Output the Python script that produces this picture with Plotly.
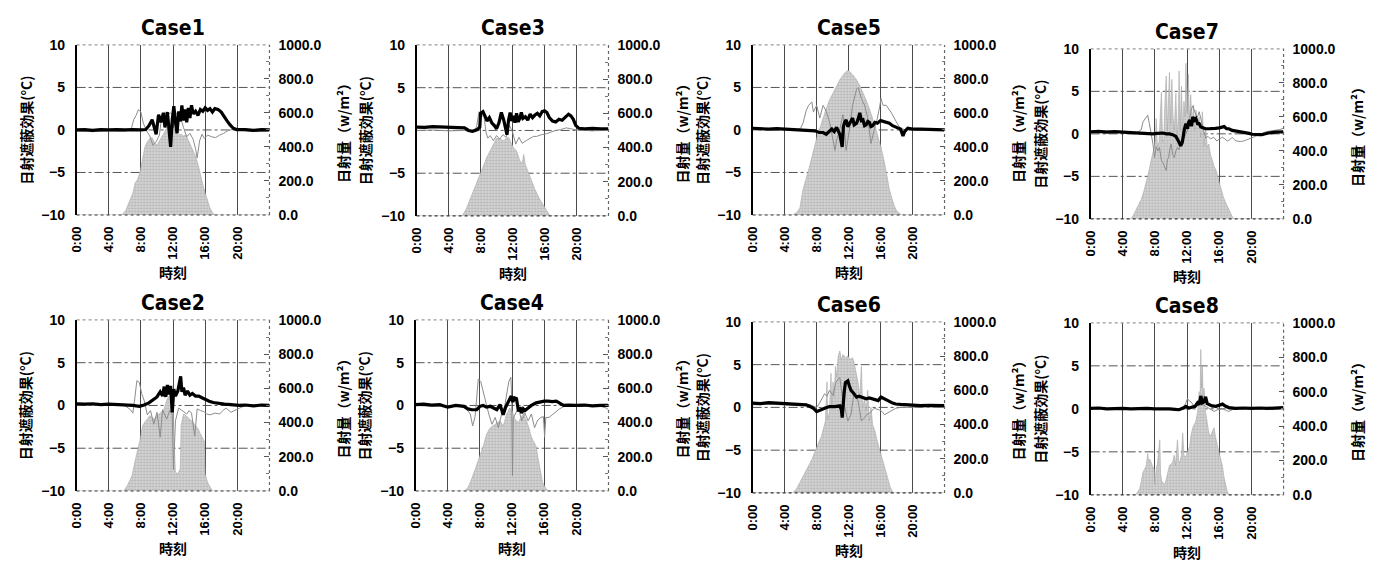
import plotly.graph_objects as go

# ---------------------------------------------------------------- data
# time of day [h], shading effect [°C] (black: 日射遮蔽効果, gray: comparison),
# global solar radiation [W/m2]
HOUR_TICKS = [0, 4, 8, 12, 16, 20]
HOUR_LABELS = ["0:00", "4:00", "8:00", "12:00", "16:00", "20:00"]
TEMP_TICKS = [-10, -5, 0, 5, 10]
TEMP_GRID = [-5, 0, 5]
CASES = ["Case1", "Case2", "Case3", "Case4", "Case5", "Case6", "Case7", "Case8"]

C1_RAD = [(0,0),(5.6,0),(6.1,25),(6.7,90),(7.0,130),(7.3,190),(7.6,210),(7.9,255),(8.2,340),(8.5,400),(8.8,430),(9.1,450),(9.4,455),(9.7,425),(10.0,410),(10.3,435),(10.6,460),(10.9,480),(11.2,510),(11.5,525),(11.8,520),(12.1,510),(12.4,480),(12.7,470),(13.0,475),(13.3,465),(13.6,470),(13.9,440),(14.2,410),(14.5,380),(14.8,345),(15.1,300),(15.4,235),(15.7,180),(16.0,130),(16.3,80),(16.6,40),(16.9,15),(17.2,0),(24,0)]
C1_BLK = [(0,0),(1,0.05),(2,-0.05),(3,0.05),(4,0),(5,0.05),(6,0),(7,0.05),(8,0),(8.6,0.05),(9.0,0.5),(9.4,1.2),(9.7,0.2),(9.9,-0.5),(10.2,1.8),(10.5,0.9),(10.8,2.0),(11.0,0.3),(11.3,2.1),(11.5,0.4),(11.7,-2.0),(11.9,1.2),(12.1,2.8),(12.3,0.9),(12.5,-0.4),(12.7,2.2),(12.9,1.0),(13.1,2.9),(13.3,1.1),(13.5,2.4),(13.7,0.9),(13.9,2.6),(14.1,1.4),(14.3,2.9),(14.5,1.9),(14.8,2.2),(15.1,1.7),(15.4,2.4),(15.7,2.2),(16.0,2.6),(16.3,2.3),(16.6,2.5),(16.9,2.1),(17.2,2.5),(17.6,2.4),(18.0,2.1),(18.3,1.6),(18.7,1.1),(19.1,0.6),(19.5,0.2),(19.9,0.05),(21,0.05),(22,-0.05),(23,0.05),(24,0)]
C1_GRY = [(0,-0.1),(2,-0.2),(4,-0.1),(6,-0.15),(6.8,0.1),(7.1,1.2),(7.4,1.7),(7.7,2.4),(8.0,2.1),(8.3,0.8),(8.7,-0.1),(9.1,-0.7),(9.5,-1.8),(9.9,-1.4),(10.3,-0.6),(10.6,1.6),(10.9,2.1),(11.3,1.8),(11.7,2.0),(12.1,1.7),(12.5,2.0),(12.9,1.6),(13.3,0.3),(13.7,-0.8),(14.1,-0.4),(14.5,-1.1),(14.8,-2.2),(15.0,-3.3),(15.3,-1.3),(15.6,-0.5),(15.9,-1.0),(16.3,-0.6),(16.8,-0.8),(17.3,-0.9),(17.8,-0.6),(18.3,-0.4),(18.8,-0.1),(19.5,0.1),(21,-0.1),(22.5,-0.2),(24,-0.1)]

C2_RAD = [(0,0),(5.9,0),(6.4,40),(6.9,90),(7.3,180),(7.6,240),(7.9,300),(8.2,380),(8.5,405),(8.8,420),(9.1,440),(9.4,430),(9.7,420),(10.0,445),(10.3,450),(10.6,465),(10.9,480),(11.2,530),(11.5,555),(11.8,560),(12.0,520),(12.15,260),(12.3,110),(12.6,100),(12.9,130),(13.0,380),(13.3,450),(13.6,440),(13.9,430),(14.2,415),(14.5,400),(14.8,380),(15.1,365),(15.4,335),(15.7,310),(15.9,290),(16.0,100),(16.3,50),(16.6,25),(16.9,0),(24,0)]
C2_BLK = [(0,0.2),(1,0.15),(2,0.2),(3,0.1),(4,0.15),(5,0.1),(6,0.1),(7,0.0),(7.8,-0.1),(8.4,0.05),(9.0,0.3),(9.5,0.6),(10.0,1.0),(10.4,1.6),(10.7,1.1),(10.9,2.2),(11.1,1.0),(11.3,2.4),(11.5,1.3),(11.7,2.3),(11.9,-0.8),(12.1,1.9),(12.3,1.1),(12.6,1.7),(12.8,2.5),(12.95,3.4),(13.1,1.6),(13.3,2.1),(13.5,1.2),(13.8,1.7),(14.1,1.2),(14.4,1.4),(14.8,1.1),(15.2,1.1),(15.6,0.9),(16.0,0.7),(16.5,0.5),(17.0,0.35),(17.6,0.25),(18.4,0.15),(19.2,0.1),(20.2,0),(21,0.05),(22,-0.05),(23,0.05),(24,0)]
C2_GRY = [(0,0.1),(2,0.05),(4,0.1),(6,0),(6.7,-0.5),(7.0,-0.9),(7.2,0.5),(7.5,2.9),(7.8,2.7),(8.1,1.4),(8.4,0.6),(8.8,-1.1),(9.2,-0.6),(9.6,-2.2),(10.0,-0.8),(10.4,-3.7),(10.7,-0.5),(11.0,-1.2),(11.2,-1.6),(11.6,-0.6),(11.9,-1.0),(12.05,-7.5),(12.3,-1.8),(12.7,-0.3),(13.0,-0.5),(13.3,-0.7),(13.7,-1.0),(14.0,-0.6),(14.3,-0.9),(14.7,-3.6),(15.0,-0.4),(15.4,-0.6),(15.8,-0.7),(16.2,-1.0),(16.6,-1.1),(17.2,-0.9),(17.8,-1.0),(18.2,-0.6),(18.6,-0.3),(19.2,-0.8),(19.8,-0.5),(20.3,-0.3),(21,0),(22,-0.1),(23,0),(24,-0.1)]

C3_RAD = [(0,0),(5.7,0),(6.2,40),(6.7,98),(7.2,150),(7.6,195),(8.2,270),(8.8,345),(9.4,400),(10.0,455),(10.4,450),(10.9,440),(11.2,455),(11.5,460),(11.8,430),(12.1,400),(12.5,380),(12.9,325),(13.2,305),(13.4,360),(13.6,300),(14.0,250),(14.4,210),(14.8,155),(15.4,98),(16.0,50),(16.4,20),(16.7,0),(24,0)]
C3_BLK = [(0,0.4),(1,0.35),(2,0.45),(3,0.4),(4,0.4),(5,0.35),(6,0.3),(6.5,0.0),(7.0,-0.1),(7.6,0.1),(7.9,0.4),(8.0,2.0),(8.3,2.2),(8.6,1.6),(8.8,1.1),(9.1,1.5),(9.4,0.9),(9.7,0.6),(10.0,0.2),(10.3,0.9),(10.6,2.1),(10.9,1.2),(11.1,0.5),(11.3,-0.5),(11.5,1.2),(11.7,2.1),(11.9,1.1),(12.1,1.7),(12.3,0.9),(12.5,2.0),(12.7,1.0),(12.9,1.4),(13.1,2.1),(13.3,1.4),(13.6,1.6),(13.9,1.2),(14.2,1.9),(14.5,1.5),(14.8,1.8),(15.1,2.0),(15.4,1.7),(15.7,2.2),(16.0,2.3),(16.3,2.1),(16.6,1.5),(17.0,1.1),(17.4,1.0),(17.8,1.3),(18.2,1.2),(18.6,1.5),(19.0,1.9),(19.3,1.7),(19.6,1.3),(19.9,0.6),(20.3,0.25),(21,0.2),(22,0.25),(23,0.2),(24,0.2)]
C3_GRY = [(0,0),(2,0.05),(4,-0.05),(6,0),(7.0,-0.2),(7.5,0.4),(7.8,2.2),(8.1,1.6),(8.4,1.8),(8.7,-0.3),(8.9,-0.9),(9.2,-0.6),(9.6,-1.2),(10.0,-0.6),(10.4,-1.0),(10.8,-0.5),(11.2,-0.8),(11.6,0.6),(12.0,-0.2),(12.4,-1.6),(12.8,-0.8),(13.2,-1.5),(13.7,-1.2),(14.2,-0.9),(14.6,-0.7),(15.0,-0.7),(15.6,-0.5),(16.2,-0.4),(16.8,-0.2),(17.4,0),(18.0,0.1),(18.7,0.3),(19.3,0.2),(20,0.05),(21,0),(22,-0.05),(23,0),(24,0)]

C4_RAD = [(0,0),(6.1,0),(6.5,20),(6.8,50),(7.4,125),(7.8,185),(8.1,220),(8.4,260),(8.85,335),(9.3,370),(9.9,390),(10.5,410),(10.9,380),(11.3,445),(11.7,485),(12.0,470),(12.35,420),(12.8,400),(13.1,430),(13.4,450),(13.8,410),(14.1,370),(14.4,315),(14.7,290),(15.0,260),(15.2,200),(15.4,145),(15.8,50),(16.2,15),(16.5,0),(24,0)]
C4_BLK = [(0,0.1),(1,0.15),(2,0.05),(3,0.1),(4,-0.2),(5,0),(6,-0.1),(6.5,-0.4),(7.0,-0.5),(7.6,-0.5),(8.0,-0.1),(8.4,0.0),(8.8,-0.2),(9.3,-0.1),(9.7,-0.3),(10.1,-0.5),(10.5,0.1),(10.9,-1.1),(11.2,-0.2),(11.5,0.3),(11.7,0.8),(11.9,1.1),(12.1,0.4),(12.3,0.9),(12.55,0.8),(12.8,-0.7),(13.0,-0.2),(13.2,-0.9),(13.4,-0.4),(13.6,-0.6),(14.0,-0.3),(14.4,0.0),(15.0,0.3),(15.5,0.4),(16.0,0.5),(16.5,0.5),(17.0,0.45),(17.5,0.5),(18.0,0.2),(18.4,0.0),(19,0.05),(20,0),(21,0.05),(22,-0.05),(23,0),(24,0)]
C4_GRY = [(0,0),(2,-0.1),(4,-0.05),(5.5,0),(6.0,-0.2),(6.4,-0.5),(6.8,-1.0),(7.1,-2.4),(7.4,-1.3),(7.6,0.8),(7.8,3.1),(8.1,2.8),(8.4,1.6),(8.65,0.5),(9.1,-1.0),(9.5,-2.2),(9.9,-1.4),(10.3,-2.6),(10.7,-1.0),(11.1,0.0),(11.4,1.6),(11.6,2.8),(11.85,3.3),(11.95,1.0),(12.05,-8.2),(12.15,-1.5),(12.4,-1.0),(12.8,-0.3),(13.2,-1.8),(13.6,-0.9),(14.0,-1.8),(14.4,-1.0),(14.8,-2.6),(15.2,-1.7),(15.6,-1.4),(15.9,-1.3),(16.05,-3.7),(16.2,-1.4),(16.6,-1.4),(17.1,-1.0),(17.6,-0.6),(17.9,-0.4),(18.5,-0.1),(19.1,-0.1),(20,-0.1),(21,-0.1),(22,0),(23,-0.1),(23.7,-0.3),(24,-0.5)]

C5_RAD = [(0,0),(5.0,0),(5.5,15),(5.9,40),(6.3,150),(6.7,210),(7.0,265),(7.3,320),(7.6,380),(8.0,450),(8.4,510),(8.8,570),(9.2,625),(9.6,675),(10.05,720),(10.5,760),(10.9,795),(11.2,815),(11.5,835),(11.9,850),(12.1,845),(12.5,825),(13.0,795),(13.4,760),(13.8,720),(14.2,675),(14.6,625),(15.0,570),(15.4,510),(15.7,455),(16.05,400),(16.5,305),(16.8,230),(17.1,150),(17.4,100),(17.7,55),(18.0,25),(18.3,10),(18.6,0),(24,0)]
C5_BLK = [(0,0.2),(1,0.15),(2,0.1),(3,0.15),(4,0.1),(5,0.05),(6,0.0),(7.0,-0.05),(7.8,-0.1),(8.3,-0.3),(8.8,-0.3),(9.2,-0.5),(9.6,-0.1),(9.9,0.1),(10.2,-0.2),(10.5,0.3),(10.9,-0.5),(11.1,-1.6),(11.2,-2.0),(11.35,0.4),(11.5,0.9),(11.7,1.2),(11.9,0.4),(12.1,0.7),(12.3,1.0),(12.5,1.4),(12.7,0.6),(13.0,0.8),(13.2,1.3),(13.4,2.0),(13.6,1.1),(13.8,1.2),(14.0,0.5),(14.2,0.6),(14.4,1.0),(14.6,0.9),(14.8,0.4),(15.0,0.5),(15.3,0.9),(15.6,0.8),(16.0,1.1),(16.5,1.0),(17.1,0.8),(17.5,0.5),(18.1,0.3),(18.5,0.1),(18.8,-0.7),(19.0,-0.2),(19.4,0.2),(20,0.1),(21,0.1),(22,0.05),(23,0.0),(24,0.0)]
C5_GRY = [(0,0.1),(2,0.0),(4,0.05),(5.5,0),(6.0,0.2),(6.3,0.8),(6.7,2.3),(7.0,2.9),(7.4,3.3),(7.6,2.1),(8.0,2.9),(8.4,1.4),(8.8,2.9),(9.2,2.2),(9.6,1.0),(9.9,-0.5),(10.05,-1.6),(10.3,-2.4),(10.5,-1.2),(10.9,0.1),(11.3,1.8),(11.7,-2.4),(12.1,0.0),(12.5,2.9),(13.0,4.8),(13.2,5.0),(13.6,3.7),(14.0,2.9),(14.4,1.4),(14.8,-1.6),(15.2,0.0),(15.6,1.4),(15.9,2.8),(16.05,3.7),(16.3,2.9),(16.7,2.9),(17.3,2.1),(17.9,1.0),(18.3,0.4),(18.8,0.1),(19.2,0.0),(20,0.05),(21,0),(22,0.05),(23,0),(24,0)]

C6_RAD = [(0,0),(5.0,0),(5.5,25),(5.9,60),(6.3,100),(6.7,135),(7.1,170),(7.4,195),(7.7,230),(8.0,270),(8.3,300),(8.6,330),(8.9,380),(9.1,420),(9.3,650),(9.4,430),(9.6,470),(9.8,700),(9.9,500),(10.05,650),(10.2,560),(10.35,740),(10.5,680),(10.7,800),(10.9,830),(11.1,780),(11.3,810),(11.6,790),(11.9,800),(12.2,780),(12.5,790),(12.7,760),(12.95,700),(13.2,640),(13.4,560),(13.6,740),(13.75,500),(14.0,550),(14.2,480),(14.4,600),(14.6,420),(14.8,500),(15.0,400),(15.3,360),(15.6,300),(15.9,250),(16.1,215),(16.3,190),(16.6,130),(16.9,80),(17.2,35),(17.5,5),(17.7,0),(24,0)]
C6_BLK = [(0,0.5),(1,0.45),(2,0.55),(3,0.5),(4,0.5),(5,0.45),(6,0.4),(6.7,0.3),(7.2,0.1),(7.6,-0.1),(8.0,-0.5),(8.4,-0.3),(9.0,-0.1),(9.6,0.1),(10.3,0.1),(10.9,0.2),(11.1,-0.3),(11.2,-1.2),(11.3,0.5),(11.45,1.8),(11.6,2.9),(11.9,3.1),(12.1,2.5),(12.3,2.0),(12.5,1.8),(12.8,1.4),(13.0,1.2),(13.3,1.3),(13.6,1.2),(13.9,1.1),(14.2,1.0),(14.6,1.1),(15.0,1.0),(15.4,0.9),(15.7,0.8),(16.05,1.2),(16.3,1.1),(16.6,0.9),(17.1,0.7),(17.5,0.5),(17.9,0.4),(18.5,0.35),(19.2,0.3),(20,0.25),(21,0.2),(22,0.25),(23,0.2),(24,0.2)]
C6_GRY = [(0,0.3),(2,0.35),(4,0.3),(6,0.2),(7.2,0.3),(8.0,0.0),(8.3,0.4),(8.6,1.0),(9.0,1.6),(9.3,1.3),(9.6,2.0),(10.05,1.4),(10.4,2.9),(10.7,3.3),(10.9,3.5),(11.2,1.4),(11.5,0.0),(11.9,-1.6),(12.3,-0.8),(12.7,1.8),(13.2,0.7),(13.6,-1.6),(14.0,-1.2),(14.3,-0.8),(14.6,-0.7),(15.2,-0.1),(15.85,-0.3),(16.2,-0.5),(16.5,-0.85),(17.1,-0.5),(17.9,-0.1),(18.5,0.0),(19.2,0.0),(20,0.05),(22,0),(24,0.05)]

C7_RAD = [(0,0),(5.0,0),(5.3,20),(5.7,55),(6.0,85),(6.3,115),(6.6,160),(6.9,210),(7.2,270),(7.5,340),(7.7,380),(7.9,420),(8.05,480),(8.15,590),(8.3,430),(8.5,450),(8.65,600),(8.8,745),(8.95,450),(9.1,470),(9.25,700),(9.4,840),(9.55,520),(9.7,700),(9.8,860),(9.95,560),(10.1,820),(10.25,600),(10.4,520),(10.6,740),(10.75,480),(10.9,600),(11.0,870),(11.15,520),(11.3,780),(11.45,500),(11.6,690),(11.75,600),(11.85,915),(12.0,620),(12.15,850),(12.3,560),(12.45,730),(12.6,560),(12.8,670),(12.95,520),(13.1,640),(13.3,560),(13.5,600),(13.7,480),(13.9,630),(14.1,430),(14.3,540),(14.5,420),(14.7,440),(14.9,380),(15.1,345),(15.35,310),(15.6,285),(15.9,230),(16.2,170),(16.5,130),(16.8,95),(17.1,60),(17.4,35),(17.6,15),(17.8,0),(24,0)]
C7_BLK = [(0,0.25),(1,0.3),(2,0.2),(3,0.25),(4,0.2),(5,0.15),(5.7,0.1),(6.5,0.0),(7.0,0.05),(7.7,0.0),(8.3,0.05),(9.0,0.1),(9.4,0.0),(9.8,0.0),(10.2,-0.1),(10.6,-0.3),(10.95,-0.9),(11.2,-1.4),(11.4,-1.0),(11.55,0.0),(11.65,0.5),(11.85,1.2),(12.05,0.6),(12.2,1.4),(12.35,1.6),(12.55,0.9),(12.7,2.0),(12.9,1.6),(13.1,1.8),(13.3,1.2),(13.5,1.2),(13.7,0.8),(13.9,0.7),(14.3,0.6),(14.7,0.6),(15.1,0.6),(15.5,0.65),(16.0,0.7),(16.3,0.75),(16.6,0.85),(16.9,0.6),(17.2,0.6),(17.6,0.4),(18.0,0.35),(18.4,0.25),(18.85,0.2),(19.3,0.1),(19.7,0.05),(20.1,-0.05),(20.5,-0.1),(21.0,-0.1),(21.3,-0.1),(21.7,0.0),(22.1,0.1),(23.0,0.2),(24,0.25)]
C7_GRY = [(0,0.3),(1,0.25),(2,0.35),(3,0.3),(4,0.2),(5,0.2),(5.7,0.1),(6.0,0.3),(6.3,0.5),(6.5,1.4),(6.8,1.8),(7.1,2.2),(7.3,1.2),(7.5,0.3),(7.75,-1.2),(7.95,-2.8),(8.15,-1.5),(8.35,-2.0),(8.55,-1.6),(8.8,-3.1),(9.0,-3.4),(9.2,-3.9),(9.4,-4.3),(9.55,-3.0),(9.7,-2.8),(9.85,-1.8),(10.0,-1.2),(10.2,-2.4),(10.4,-2.8),(10.6,-2.0),(10.8,-1.6),(11.0,-1.9),(11.2,-1.2),(11.45,-0.8),(11.65,-0.5),(11.85,0.0),(12.05,0.5),(12.3,1.6),(12.5,2.8),(12.7,3.3),(12.9,2.6),(13.1,2.2),(13.3,2.0),(13.5,2.6),(13.7,1.8),(13.9,1.0),(14.1,0.2),(14.3,-0.5),(14.6,-0.3),(14.9,-0.6),(15.3,-0.4),(15.7,-0.85),(16.0,-0.6),(16.4,-0.4),(16.7,-0.6),(17.0,-0.85),(17.3,-0.7),(17.6,-0.4),(17.9,-0.7),(18.2,-0.85),(18.6,-0.9),(19.0,-0.85),(19.4,-0.7),(19.7,-0.6),(20.1,-0.4),(20.5,-0.3),(20.9,-0.1),(21.3,0.1),(21.7,0.2),(22.1,0.3),(22.6,0.35),(23.0,0.45),(23.5,0.5),(24,0.65)]

C8_RAD = [(0,0),(5.6,0),(5.8,15),(6.1,35),(6.3,80),(6.5,130),(6.7,150),(6.9,165),(7.1,240),(7.2,200),(7.4,205),(7.6,175),(7.7,165),(7.9,150),(8.0,60),(8.15,150),(8.3,180),(8.45,250),(8.6,320),(8.7,120),(8.85,80),(9.0,70),(9.2,60),(9.4,90),(9.6,130),(9.8,170),(10.0,180),(10.2,190),(10.4,230),(10.55,170),(10.7,260),(10.8,320),(10.95,200),(11.1,190),(11.3,230),(11.45,360),(11.6,230),(11.85,220),(12.1,260),(12.3,280),(12.5,350),(12.7,390),(12.9,410),(13.1,430),(13.3,480),(13.5,600),(13.6,520),(13.7,845),(13.8,620),(13.9,750),(14.0,540),(14.1,620),(14.3,480),(14.5,430),(14.7,360),(14.9,340),(15.1,360),(15.35,390),(15.55,330),(15.8,280),(16.1,220),(16.4,165),(16.6,100),(16.8,55),(17.0,20),(17.2,0),(24,0)]
C8_BLK = [(0,0.05),(1,0.1),(2,0.0),(3,0.05),(4,0.05),(5,0.0),(6,0.05),(7,0.05),(8,0.0),(9,0.05),(9.8,0.0),(10.5,-0.05),(11.0,-0.1),(11.5,0.1),(11.85,0.3),(12.2,0.1),(12.7,0.2),(13.0,0.3),(13.3,0.7),(13.5,0.5),(13.7,1.5),(13.9,0.7),(14.1,0.8),(14.3,1.4),(14.5,0.6),(14.7,0.5),(15.1,0.35),(15.6,0.3),(16.0,0.4),(16.4,0.55),(16.8,0.3),(17.2,0.15),(18,0.05),(19,0.1),(20,0.05),(21,0.1),(22,0.05),(23,0.1),(24,0.15)]
C8_GRY = [(0,0.05),(2,0.0),(4,0.05),(6,0.0),(8,0.0),(10,-0.05),(11.0,0.0),(11.45,0.1),(11.8,0.6),(12.05,1.2),(12.3,0.9),(12.5,0.8),(12.8,0.4),(13.1,0.3),(13.5,0.4),(13.9,0.5),(14.3,0.3),(14.7,0.1),(15.0,-0.1),(15.35,-0.3),(15.8,-0.1),(16.4,0.0),(16.9,-0.2),(17.2,-0.3),(17.6,-0.1),(18.2,0.0),(20,0.05),(22,0.0),(24,0.05)]

RAD = [C1_RAD, C2_RAD, C3_RAD, C4_RAD, C5_RAD, C6_RAD, C7_RAD, C8_RAD]
BLK = [C1_BLK, C2_BLK, C3_BLK, C4_BLK, C5_BLK, C6_BLK, C7_BLK, C8_BLK]
GRY = [C1_GRY, C2_GRY, C3_GRY, C4_GRY, C5_GRY, C6_GRY, C7_GRY, C8_GRY]

# ---------------------------------------------------------------- layout
W, H = 1380, 567
# plot-area boxes in pixels: left, right, top, bottom
BOXES = {
    "Case1": (69, 263, 38, 213), "Case3": (411, 604, 38, 214),
    "Case5": (749, 942, 38, 213), "Case7": (1089, 1283, 42, 217),
    "Case2": (69, 263, 321, 497), "Case4": (410, 604, 321, 497),
    "Case6": (749, 942, 323, 499), "Case8": (1089, 1283, 324, 501),
}

NUM_FONT = "Liberation Sans, Arial, Helvetica, sans-serif"
JP_FONT = "Noto Sans CJK JP, Noto Sans CJK SC, sans-serif"
TITLE_FONT = "Liberation Sans Narrow, DejaVu Sans Condensed, Roboto Condensed, Liberation Sans, sans-serif"


def px(x):
    return x / W


def py(y):
    return 1 - y / H


def unzip(pairs):
    return [p[0] for p in pairs], [p[1] for p in pairs]


def ax_id(letter, n):
    return letter if n == 1 else f"{letter}{n}"


fig = go.Figure()
layout = dict(
    width=W, height=H, autosize=False,
    margin=dict(l=0, r=0, t=0, b=0),
    paper_bgcolor="white", plot_bgcolor="white",
    showlegend=False,
)
shapes, annotations = [], []

for k, name in enumerate(CASES):
    l, r, t, b = BOXES[name]
    xn = k + 1
    ya = 2 * k + 1   # radiation axis (right, base)
    yb = 2 * k + 2   # shading-effect axis (left, overlay)
    xid, yaid, ybid = ax_id("x", xn), ax_id("y", ya), ax_id("y", yb)

    hx, rv = unzip(RAD[k])
    fig.add_trace(go.Scatter(
        x=hx, y=rv, xaxis=xid, yaxis=yaid, mode="lines",
        line=dict(color="#a8a8a8", width=0.6),
        fill="tozeroy", fillcolor="#cfcfcf",
        fillpattern=dict(shape=".", fgcolor="#8a8a8a", bgcolor="#d4d4d4",
                         size=3, solidity=0.35),
        hoverinfo="skip"))
    hx, gv = unzip(GRY[k])
    fig.add_trace(go.Scatter(
        x=hx, y=gv, xaxis=xid, yaxis=ybid, mode="lines",
        line=dict(color="#8c8c8c", width=1), hoverinfo="skip"))
    hx, bv = unzip(BLK[k])
    fig.add_trace(go.Scatter(
        x=hx, y=bv, xaxis=xid, yaxis=ybid, mode="lines",
        line=dict(color="black", width=3.2), hoverinfo="skip"))

    xkey = "xaxis" if xn == 1 else f"xaxis{xn}"
    yakey = "yaxis" if ya == 1 else f"yaxis{ya}"
    ybkey = f"yaxis{yb}"

    layout[xkey] = dict(
        domain=[px(l), px(r)], anchor=yaid, range=[0, 24],
        tickmode="array", tickvals=HOUR_TICKS, ticktext=HOUR_LABELS,
        tickangle=-90, ticks="", ticklabelstandoff=8,
        tickfont=dict(family=NUM_FONT, size=13, color="black", weight="bold"),
        showgrid=True, gridcolor="#4a4a4a", gridwidth=1,
        zeroline=False, showline=False, fixedrange=True)
    layout[yakey] = dict(
        domain=[py(b), py(t)], anchor=xid, side="right", range=[0, 1000],
        tickmode="linear", tick0=0, dtick=200, tickformat=".1f",
        ticks="inside", ticklen=5, tickcolor="#555", tickwidth=1,
        minor=dict(ticks="inside", ticklen=3, dtick=100, tickcolor="#777"),
        ticklabelstandoff=8,
        tickfont=dict(family=NUM_FONT, size=14, color="black", weight="bold"),
        showgrid=False, zeroline=False, showline=False, fixedrange=True)
    layout[ybkey] = dict(
        overlaying=yaid, anchor=xid, side="left", range=[-10, 10],
        tickmode="array", tickvals=TEMP_TICKS, ticks="",
        ticklabelstandoff=7,
        tickfont=dict(family=NUM_FONT, size=14, color="black", weight="bold"),
        showgrid=False, zeroline=False,
        showline=True, linecolor="black", linewidth=1.6, fixedrange=True)

    # dash-dot horizontal grid of the shading-effect axis
    for v in TEMP_GRID:
        shapes.append(dict(type="line", xref=f"{xid} domain", yref=ybid,
                           x0=0, x1=1, y0=v, y1=v, layer="below",
                           line=dict(color="#555", width=1, dash="dashdot")))
    # dotted frame: top, bottom, right
    frame = [((0, 1, 1, 1), "#9a9a9a"), ((0, 1, 0, 0), "#333"),
             ((1, 1, 0, 1), "#666")]
    for (x0, x1, y0, y1), col in frame:
        shapes.append(dict(type="line", xref=f"{xid} domain",
                           yref=f"{yaid} domain", x0=x0, x1=x1, y0=y0, y1=y1,
                           layer="above", line=dict(color=col, width=1.2,
                                                    dash="dot")))

    cx, cy = (l + r) / 2, (t + b) / 2
    annotations.append(dict(
        text=f"<b>{name}</b>", x=px(cx), y=py(t - 17), xref="paper",
        yref="paper", xanchor="center", yanchor="middle", showarrow=False,
        font=dict(family=TITLE_FONT, size=21, color="black")))
    annotations.append(dict(
        text="<b>日射遮蔽効果(°C)</b>", x=px(l - 51), y=py(cy), xref="paper",
        yref="paper", xanchor="center", yanchor="middle", textangle=-90,
        showarrow=False, font=dict(family=JP_FONT, size=14, color="black")))
    annotations.append(dict(
        text="<b>日射量（w/m²）</b>", x=px(r + 74), y=py(cy), xref="paper",
        yref="paper", xanchor="center", yanchor="middle", textangle=-90,
        showarrow=False, font=dict(family=JP_FONT, size=14, color="black")))
    annotations.append(dict(
        text="<b>時刻</b>", x=px(cx), y=py(b + 59), xref="paper",
        yref="paper", xanchor="center", yanchor="middle", showarrow=False,
        font=dict(family=JP_FONT, size=14, color="black")))

layout["shapes"] = shapes
layout["annotations"] = annotations
fig.update_layout(**layout)
fig.write_html("out.html")
